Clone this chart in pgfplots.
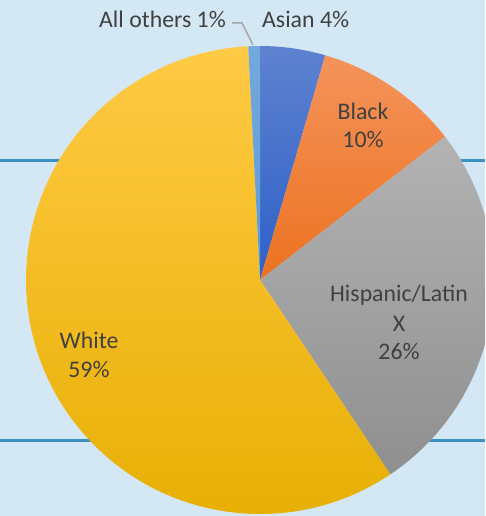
\documentclass[border=0pt]{standalone}
\usepackage{pgfplots}
\pgfplotsset{compat=1.18}
\usepackage{pgfplotstable}
\usepackage{fontspec}
\setmainfont{Carlito}
\definecolor{bgblue}{HTML}{D4E7F5}
\definecolor{lineblue}{HTML}{3B92C2}
\definecolor{txt}{HTML}{404040}
\definecolor{leader}{HTML}{A5A5A5}
\definecolor{asT}{HTML}{5E82CF}\definecolor{asB}{HTML}{2E60C8}
\definecolor{blT}{HTML}{F4935B}\definecolor{blB}{HTML}{EC7220}
\definecolor{hiT}{HTML}{B3B3B3}\definecolor{hiB}{HTML}{8F8F8F}
\definecolor{whT}{HTML}{FFCA45}\definecolor{whM}{HTML}{FFC200}\definecolor{whB}{HTML}{E6AE00}
\definecolor{otT}{HTML}{72A9DE}\definecolor{otB}{HTML}{5E9AD6}
\pgfplotstableread{
label value
Asian 4.5
Black 10.0
Hispanic 26.1
White 58.6
Others 0.8
}\piedata
\newcommand\slice[3]{%
  \shade[top color=#2,bottom color=#3]
    (axis cs:260,236) --
    (axis cs:{260+234*cos(\csname sa#1\endcsname)},{236+234*sin(\csname sa#1\endcsname)})
    arc[start angle=\csname sa#1\endcsname, end angle=\csname ea#1\endcsname, radius=234] -- cycle;}
\begin{document}
\begin{tikzpicture}
\pgfplotstablegetrowsof{\piedata}\pgfmathtruncatemacro\nrows{\pgfplotsretval-1}
\gdef\cum{0}
\foreach \i in {0,...,\nrows}{
  \pgfplotstablegetelem{\i}{value}\of\piedata
  \pgfmathsetmacro\startang{90-3.6*\cum}
  \pgfmathsetmacro\newcum{\cum+\pgfplotsretval}
  \pgfmathsetmacro\endang{90-3.6*\newcum}
  \expandafter\xdef\csname sa\i\endcsname{\startang}
  \expandafter\xdef\csname ea\i\endcsname{\endang}
  \xdef\cum{\newcum}
}
\begin{axis}[
  scale only axis, width=485pt, height=516pt,
  xmin=0, xmax=485, ymin=0, ymax=516,
  axis lines=none, ticks=none, clip=true,
]
\fill[bgblue] (axis cs:0,0) rectangle (axis cs:485,516);
\draw[lineblue, line width=3pt] (axis cs:0,355.5) -- (axis cs:485,355.5);
\draw[lineblue, line width=3pt] (axis cs:0,75.5) -- (axis cs:485,75.5);
\slice{0}{asT}{asB}
\slice{1}{blT}{blB}
\slice{2}{hiT}{hiB}
\shade[top color=whT, middle color=whM, bottom color=whB]
    (axis cs:260,236) --
    (axis cs:{260+234*cos(\csname sa3\endcsname)},{236+234*sin(\csname sa3\endcsname)})
    arc[start angle=\csname sa3\endcsname, end angle=\csname ea3\endcsname, radius=234] -- cycle;
\slice{4}{otT}{otB}
\draw[leader, line width=1.5pt] (axis cs:232,493) -- (axis cs:242,493) -- (axis cs:253,471);
\begin{scope}[every node/.style={inner sep=0pt, text=txt, font=\fontsize{23.8}{28}\selectfont}]
\node[anchor=base east] at (axis cs:226,488) {All others 1\%};
\node[anchor=base west] at (axis cs:262,488) {Asian 4\%};
\node[anchor=base] at (axis cs:363,396) {Black};
\node[anchor=base] at (axis cs:363,368) {10\%};
\node[anchor=base] at (axis cs:399,214) {Hispanic/Latin};
\node[anchor=base] at (axis cs:399,184.5) {X};
\node[anchor=base] at (axis cs:399,156) {26\%};
\node[anchor=base] at (axis cs:89,167) {White};
\node[anchor=base] at (axis cs:89,138) {59\%};
\end{scope}
\end{axis}
\end{tikzpicture}
\end{document}
